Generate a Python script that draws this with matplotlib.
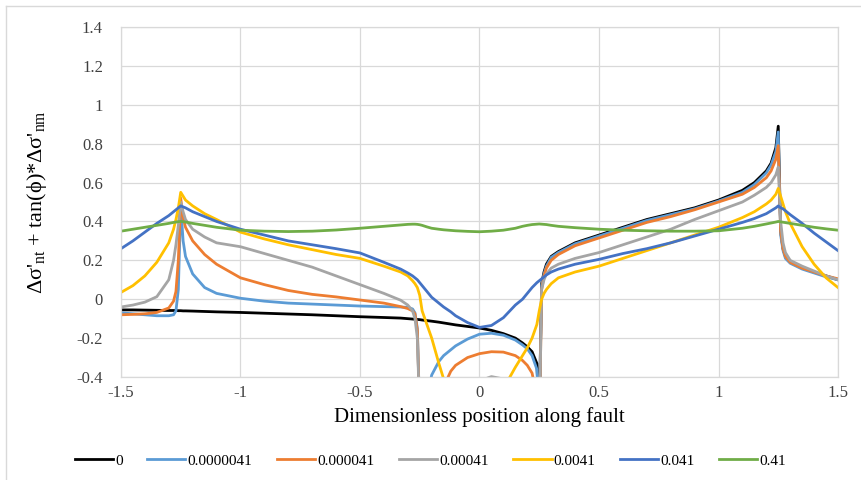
import matplotlib
matplotlib.use("Agg")
import matplotlib.pyplot as plt
from matplotlib.lines import Line2D

plt.rcParams['font.family'] = ['Liberation Serif', 'DejaVu Serif']
plt.rcParams['mathtext.fontset'] = 'custom'
plt.rcParams['mathtext.rm'] = 'Liberation Serif'
plt.rcParams['mathtext.it'] = 'Liberation Serif:italic'

# position along fault (shared grid, denser near the fault tips and the locked patch)
x = [-1.5, -1.45, -1.4, -1.35, -1.3, -1.28, -1.27, -1.26, -1.25, -1.24,
     -1.23, -1.2, -1.15, -1.1, -1.0, -0.9, -0.8, -0.7, -0.6, -0.5,
     -0.4, -0.33, -0.3, -0.28, -0.27, -0.26, -0.25, -0.24, -0.22, -0.2,
     -0.17, -0.15, -0.12, -0.1, -0.05, 0.0, 0.05, 0.1, 0.15, 0.18,
     0.2, 0.22, 0.24, 0.25, 0.26, 0.27, 0.28, 0.3, 0.33, 0.4,
     0.5, 0.6, 0.7, 0.8, 0.9, 1.0, 1.1, 1.15, 1.2, 1.22,
     1.24, 1.25, 1.26, 1.27, 1.28, 1.3, 1.35, 1.4, 1.45, 1.5]

y_0 = [-0.055, -0.055, -0.056, -0.057, -0.058, -0.058, -0.058, -0.059, -0.059, -0.06,
       -0.06, -0.061, -0.063, -0.065, -0.068, -0.072, -0.076, -0.08, -0.085, -0.09,
       -0.094, -0.097, -0.1, -0.102, -0.103, -0.104, -0.105, -0.107, -0.11, -0.113,
       -0.118, -0.122, -0.128, -0.132, -0.14, -0.148, -0.16, -0.177, -0.2, -0.225,
       -0.245, -0.27, -0.33, -0.6, 0.08, 0.14, 0.18, 0.22, 0.245, 0.29,
       0.33, 0.37, 0.41, 0.44, 0.47, 0.51, 0.56, 0.6, 0.66, 0.7,
       0.78, 0.89, 0.35, 0.26, 0.22, 0.19, 0.16, 0.14, 0.12, 0.1]

y_1 = [-0.07, -0.075, -0.08, -0.085, -0.085, -0.08, -0.06, 0.05, 0.48, 0.3,
       0.22, 0.13, 0.06, 0.03, 0.005, -0.01, -0.02, -0.025, -0.03, -0.035,
       -0.038, -0.04, -0.042, -0.05, -0.07, -0.15, -0.6, -0.8, -0.5, -0.39,
       -0.32, -0.29, -0.26, -0.24, -0.205, -0.18, -0.175, -0.185, -0.21, -0.235,
       -0.255, -0.29, -0.36, -0.6, 0.07, 0.13, 0.17, 0.215, 0.24, 0.285,
       0.325, 0.365, 0.405, 0.435, 0.465, 0.505, 0.55, 0.59, 0.65, 0.69,
       0.76, 0.86, 0.33, 0.25, 0.21, 0.185, 0.155, 0.135, 0.115, 0.1]

y_2 = [-0.08, -0.078, -0.075, -0.068, -0.045, -0.01, 0.04, 0.2, 0.52, 0.42,
       0.37, 0.3, 0.23, 0.18, 0.11, 0.075, 0.045, 0.025, 0.012, -0.004,
       -0.02, -0.038, -0.048, -0.06, -0.075, -0.16, -0.6, -0.9, -0.9, -0.8,
       -0.6, -0.45, -0.37, -0.34, -0.3, -0.28, -0.27, -0.272, -0.29, -0.315,
       -0.34, -0.38, -0.5, -0.7, 0.05, 0.12, 0.16, 0.2, 0.23, 0.275,
       0.315, 0.355, 0.395, 0.425, 0.46, 0.5, 0.54, 0.575, 0.625, 0.66,
       0.72, 0.79, 0.35, 0.26, 0.22, 0.19, 0.16, 0.14, 0.12, 0.105]

y_3 = [-0.04, -0.03, -0.015, 0.013, 0.1, 0.2, 0.28, 0.38, 0.5, 0.45,
       0.41, 0.36, 0.32, 0.29, 0.27, 0.235, 0.2, 0.165, 0.12, 0.075,
       0.03, -0.005, -0.03, -0.06, -0.1, -0.2, -0.6, -0.9, -0.9, -0.9,
       -0.9, -0.9, -0.8, -0.6, -0.45, -0.42, -0.398, -0.41, -0.6, -0.9,
       -0.9, -0.9, -0.9, -0.7, 0.05, 0.1, 0.13, 0.16, 0.18, 0.21,
       0.24, 0.28, 0.32, 0.36, 0.41, 0.455, 0.5, 0.535, 0.575, 0.6,
       0.64, 0.68, 0.4, 0.29, 0.24, 0.2, 0.17, 0.145, 0.12, 0.1]

y_4 = [0.035, 0.07, 0.12, 0.19, 0.29, 0.36, 0.41, 0.47, 0.55, 0.53,
       0.51, 0.48, 0.44, 0.41, 0.345, 0.31, 0.28, 0.255, 0.23, 0.21,
       0.17, 0.14, 0.12, 0.095, 0.08, 0.06, 0.02, -0.06, -0.13, -0.2,
       -0.33, -0.41, -0.5, -0.55, -0.6, -0.6, -0.55, -0.46, -0.35, -0.29,
       -0.25, -0.2, -0.13, -0.06, 0.0, 0.03, 0.05, 0.08, 0.11, 0.14,
       0.17, 0.21, 0.25, 0.29, 0.33, 0.37, 0.42, 0.45, 0.49, 0.51,
       0.54, 0.57, 0.53, 0.49, 0.45, 0.39, 0.27, 0.18, 0.11, 0.06]

y_5 = [0.26, 0.3, 0.345, 0.39, 0.43, 0.45, 0.46, 0.47, 0.48, 0.475,
       0.47, 0.45, 0.425, 0.4, 0.36, 0.33, 0.3, 0.28, 0.26, 0.238,
       0.19, 0.155, 0.135, 0.12, 0.11, 0.1, 0.085, 0.07, 0.04, 0.01,
       -0.02, -0.04, -0.065, -0.085, -0.12, -0.145, -0.135, -0.095, -0.03, 0.0,
       0.03, 0.06, 0.085, 0.095, 0.105, 0.115, 0.125, 0.14, 0.155, 0.18,
       0.205, 0.235, 0.26, 0.29, 0.325, 0.36, 0.395, 0.415, 0.44, 0.455,
       0.47, 0.48, 0.47, 0.465, 0.455, 0.435, 0.39, 0.34, 0.295, 0.25]

y_6 = [0.35, 0.36, 0.37, 0.38, 0.39, 0.395, 0.397, 0.399, 0.4, 0.399,
       0.397, 0.39, 0.38, 0.37, 0.355, 0.35, 0.348, 0.35, 0.356, 0.365,
       0.375, 0.382, 0.385, 0.386, 0.386, 0.385, 0.383, 0.38, 0.372, 0.365,
       0.36, 0.357, 0.354, 0.352, 0.349, 0.347, 0.35, 0.355, 0.365, 0.375,
       0.38, 0.384, 0.386, 0.387, 0.386, 0.385, 0.384, 0.38, 0.375, 0.368,
       0.36, 0.355, 0.352, 0.35, 0.35, 0.352, 0.365, 0.375, 0.387, 0.392,
       0.397, 0.4, 0.398, 0.396, 0.394, 0.39, 0.38, 0.37, 0.362, 0.355]

labels = ["0", "0.0000041", "0.000041", "0.00041", "0.0041", "0.041", "0.41"]
colors = ["#000000", "#5B9BD5", "#ED7D31", "#A5A5A5", "#FFC000", "#4472C4", "#70AD47"]
series = [y_0, y_1, y_2, y_3, y_4, y_5, y_6]

fig = plt.figure(figsize=(8.61, 4.8), dpi=100)
ax = fig.add_axes([0.1405, 0.2146, 0.8328, 0.7291])

for ys, lab, c in zip(series, labels, colors):
    ax.plot(x, ys, color=c, lw=2.0, label=lab)

ax.set_xlim(-1.5, 1.5)
ax.set_ylim(-0.4, 1.4)
ax.set_xticks([-1.5, -1, -0.5, 0, 0.5, 1, 1.5])
ax.set_xticklabels(["-1.5", "-1", "-0.5", "0", "0.5", "1", "1.5"])
ax.set_yticks([-0.4, -0.2, 0, 0.2, 0.4, 0.6, 0.8, 1, 1.2, 1.4])
ax.set_yticklabels(["-0.4", "-0.2", "0", "0.2", "0.4", "0.6", "0.8", "1", "1.2", "1.4"])
ax.grid(True, color="#D9D9D9", lw=0.9)
ax.set_axisbelow(True)
for s in ax.spines.values():
    s.set_color("#D9D9D9")
    s.set_linewidth(0.9)
ax.tick_params(length=0, labelsize=12, colors="#404040")
ax.tick_params(axis="y", pad=13)
ax.tick_params(axis="x", pad=6)

ax.set_xlabel("Dimensionless position along fault", fontsize=15, labelpad=4)
ax.set_ylabel("Δσ'$_{\\rm nt}$ + tan(ϕ)*Δσ'$_{\\rm nm}$", fontsize=16)
ax.yaxis.set_label_coords(-0.1, 0.5)

fig.legend(loc="lower center", bbox_to_anchor=(0.5, -0.003), ncol=7, frameon=False,
           fontsize=11, handlelength=2.5, handletextpad=0.15, columnspacing=1.6)

# light frame of the chart area (left and top edges show in the picture)
fig.add_artist(Line2D([0.007, 0.007], [0.0, 0.987], transform=fig.transFigure, color="#D9D9D9", lw=1))
fig.add_artist(Line2D([0.007, 1.0], [0.987, 0.987], transform=fig.transFigure, color="#D9D9D9", lw=1))

fig.savefig("out.png", dpi=100)
